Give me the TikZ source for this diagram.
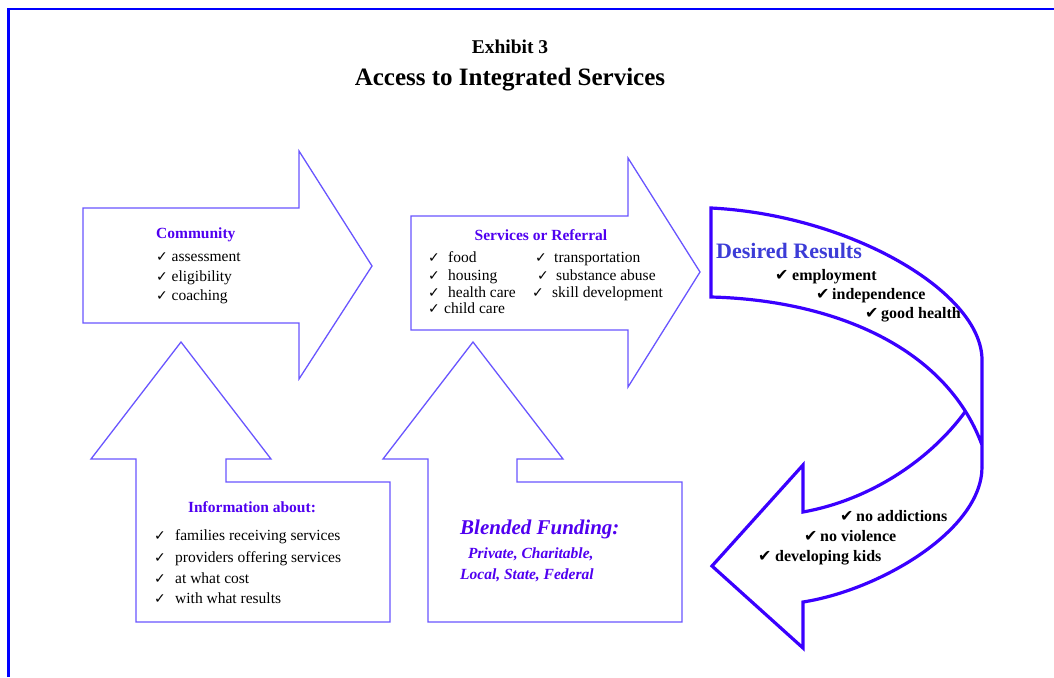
\documentclass[tikz,border=0pt]{standalone}
\usepackage{fontspec}
\setmainfont{Liberation Serif}
\newfontfamily\symfont{DejaVu Sans}
\definecolor{frameblue}{RGB}{0,0,255}
\definecolor{arrowline}{RGB}{105,85,255}
\definecolor{bandline}{RGB}{58,0,255}
\definecolor{headtext}{RGB}{80,0,240}
\definecolor{resulttext}{RGB}{60,60,215}
\newcommand{\chk}[1][16pt]{\makebox[#1][l]{{\symfont\fontsize{14}{14}\selectfont ✓}}}
\newcommand{\bchk}[1][17pt]{\makebox[#1][l]{{\symfont\fontsize{16}{16}\selectfont ✔}}}
\tikzset{
  framelines/.style={draw=frameblue, line width=2.4pt},
  thinarrow/.style={draw=arrowline, line width=1.3pt, line join=miter},
  bandarrow/.style={draw=bandline, line width=3.2pt, line join=miter},
  item/.style={anchor=base west, inner sep=0pt, font=\fontsize{15.5}{15.5}\selectfont},
  bolditem/.style={anchor=base west, inner sep=0pt, font=\bfseries\fontsize{16}{16}\selectfont},
  heading/.style={anchor=base, inner sep=0pt, text=headtext, font=\bfseries\fontsize{15.5}{15.5}\selectfont},
  funding/.style={anchor=base west, inner sep=0pt, text=headtext, font=\bfseries\itshape\fontsize{15.5}{15.5}\selectfont},
}
\begin{document}
\begin{tikzpicture}[x=1pt,y=-1pt]
\useasboundingbox (0,0) rectangle (1054,677);
\draw[framelines] (1054,9) -- (8.5,9) -- (8.5,677);

\node[anchor=base, inner sep=0pt, font=\bfseries\fontsize{19.5}{19.5}\selectfont] (exhibit) at (510,53) {Exhibit 3};
\node[anchor=base, inner sep=0pt, font=\bfseries\fontsize{25}{25}\selectfont] (title) at (510,85) {Access to Integrated Services};

% right arrows
\draw[thinarrow] (83,208) -- (299,208) -- (299,151) -- (372,266) -- (299,379) -- (299,323) -- (83,323) -- cycle;
\draw[thinarrow] (411,216) -- (628,216) -- (628,158) -- (700,272) -- (628,387) -- (628,330) -- (411,330) -- cycle;

% up arrows
\draw[thinarrow] (136,622) -- (136,459) -- (91,459) -- (181,342) -- (271,459) -- (226,459) -- (226,482) -- (390,482) -- (390,622) -- cycle;
\draw[thinarrow] (428,622) -- (428,459) -- (383,459) -- (473,342) -- (563,459) -- (517,459) -- (517,482) -- (682,482) -- (682,622) -- cycle;

% curved arrow
\draw[bandarrow] (982,467) -- (982,360) .. controls (982,292) and (850,215) .. (711,208) -- (711,297)
  .. controls (830,300) and (945,345) .. (982,445) coordinate[pos=0.88] (cross);
\draw[bandarrow] (cross) .. controls (930,460) and (870,500) .. (803,512) -- (803,465) -- (712,566)
  -- (803,648) -- (803,602) .. controls (880,590) and (982,530) .. (982,467);

\node[heading, anchor=base west] (comhead) at (156,238) {Community};
\node[item] (com1) at (156,261.5) {\chk[15.5pt]assessment};
\node[item] (com2) at (156,281) {\chk[15.5pt]eligibility};
\node[item] (com3) at (156,300) {\chk[15.5pt]coaching};

\node[heading] (srvhead) at (541,240) {Services or Referral};
\node[item] (srv1) at (428,262) {\chk[20pt]food};
\node[item] (srv2) at (428,280) {\chk[20pt]housing};
\node[item] (srv3) at (428,297) {\chk[20pt]health care};
\node[item] (srv4) at (428,313.5) {\chk[16pt]child care};
\node[item] (srv5) at (535,262) {\chk[19pt]transportation};
\node[item] (srv6) at (537,280) {\chk[19pt]substance abuse};
\node[item] (srv7) at (532,297) {\chk[20pt]skill development};

\node[heading] (infohead) at (252,512) {Information about:};
\node[item] (info1) at (154,540) {\chk[21pt]families receiving services};
\node[item] (info2) at (154,562) {\chk[21pt]providers offering services};
\node[item] (info3) at (154,583) {\chk[21pt]at what cost};
\node[item] (info4) at (154,603.5) {\chk[21pt]with what results};

\node[funding, font=\bfseries\itshape\fontsize{21}{21}\selectfont] (fundhead) at (460,534) {Blended Funding:};
\node[funding] (fund1) at (468,558) {Private, Charitable,};
\node[funding] (fund2) at (460,579) {Local, State, Federal};

\node[anchor=base west, inner sep=0pt, text=resulttext, font=\bfseries\fontsize{22}{22}\selectfont] (reshead) at (716,258) {Desired Results};
\node[bolditem] (res1) at (775,280) {\bchk employment};
\node[bolditem] (res2) at (816,299) {\bchk[16pt]independence};
\node[bolditem] (res3) at (865,318) {\bchk[16pt]good health};
\node[bolditem] (res4) at (840,521.5) {\bchk[16pt]no addictions};
\node[bolditem] (res5) at (804,541.5) {\bchk[16pt]no violence};
\node[bolditem] (res6) at (758,561.5) {\bchk developing kids};
\end{tikzpicture}
\end{document}
